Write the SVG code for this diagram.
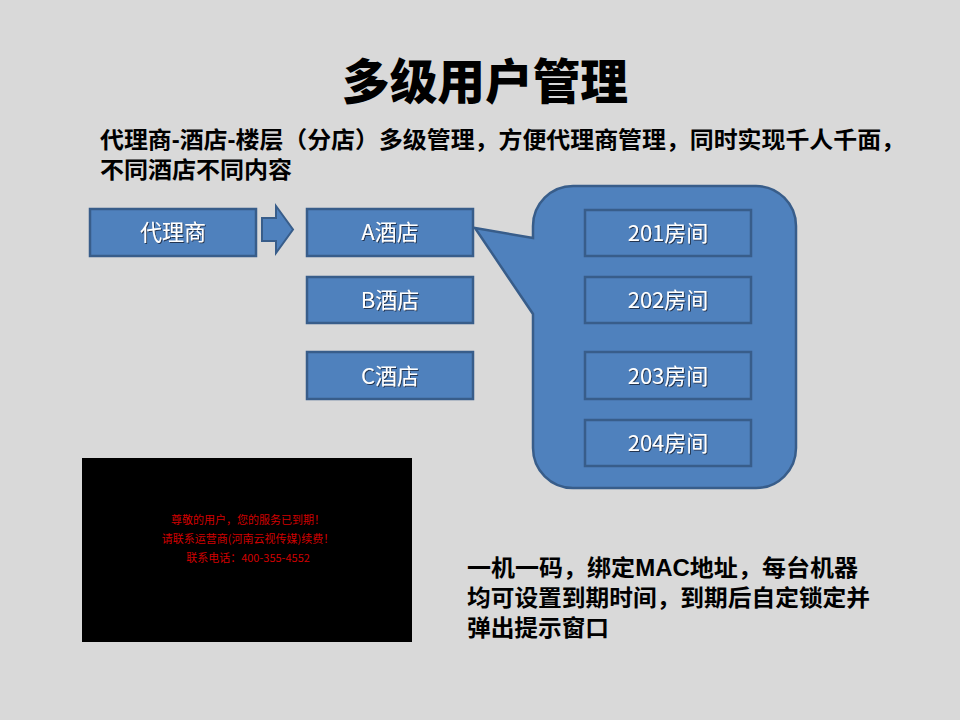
<svg xmlns="http://www.w3.org/2000/svg" width="960" height="720" viewBox="0 0 960 720">
  <defs>
    <filter id="ts" x="-10%" y="-20%" width="130%" height="150%">
      <feDropShadow dx="1" dy="1" stdDeviation="0.4" flood-color="#1f2f45" flood-opacity="0.9"/>
    </filter>
  </defs>
  <style>
    .box { fill: #4f81bd; stroke: #385d8a; stroke-width: 2.5; }
    .lbl { font-family: "Noto Sans CJK SC", "Liberation Sans", sans-serif; font-size: 22px; fill: #ffffff; text-anchor: middle; filter: url(#ts); }
    .head { font-family: "Noto Sans CJK SC", sans-serif; font-weight: 900; fill: #000000; }
    .body { font-family: "Liberation Sans", "Noto Sans CJK SC", sans-serif; font-weight: 700; font-size: 23px; fill: #000000; }
    .red { font-family: "Noto Sans CJK SC", sans-serif; font-size: 11px; fill: #d00000; text-anchor: middle; }
  </style>
  <rect width="960" height="720" fill="#d9d9d9"/>

  <text class="head" x="485" y="99" font-size="48" text-anchor="middle" textLength="286" lengthAdjust="spacingAndGlyphs">多级用户管理</text>

  <text class="body" x="100" y="148" textLength="805" lengthAdjust="spacingAndGlyphs">代理商-酒店-楼层（分店）多级管理，方便代理商管理，同时实现千人千面，</text>
  <text class="body" x="100" y="178" textLength="192" lengthAdjust="spacingAndGlyphs">不同酒店不同内容</text>

  <g id="connectors">
    <path d="M262,218 H276 V206 L293,229.5 L276,253 V241 H262 Z" fill="#4f81bd" stroke="#385d8a" stroke-width="2"/>
  </g>

  <g id="agent">
    <rect class="box" x="90" y="209" width="166" height="47"/>
    <text class="lbl" x="173" y="240">代理商</text>
  </g>
  <g id="hotelA">
    <rect class="box" x="307" y="209" width="166" height="47"/>
    <text class="lbl" x="390" y="240">A酒店</text>
  </g>
  <g id="hotelB">
    <rect class="box" x="307" y="277" width="166" height="46"/>
    <text class="lbl" x="390" y="308">B酒店</text>
  </g>
  <g id="hotelC">
    <rect class="box" x="307" y="352" width="166" height="47"/>
    <text class="lbl" x="390" y="384">C酒店</text>
  </g>

  <g id="rooms-callout">
    <path class="box" d="M573,186 H756 A40,40 0 0 1 796,226 V448 A40,40 0 0 1 756,488 H573 A40,40 0 0 1 533,448 V314 L475,228 L533,238 V226 A40,40 0 0 1 573,186 Z"/>
  </g>
  <g id="room201">
    <rect class="box" x="585" y="210" width="166" height="46"/>
    <text class="lbl" x="668" y="241">201房间</text>
  </g>
  <g id="room202">
    <rect class="box" x="585" y="277" width="166" height="46"/>
    <text class="lbl" x="668" y="308">202房间</text>
  </g>
  <g id="room203">
    <rect class="box" x="585" y="352" width="166" height="47"/>
    <text class="lbl" x="668" y="384">203房间</text>
  </g>
  <g id="room204">
    <rect class="box" x="585" y="420" width="166" height="46"/>
    <text class="lbl" x="668" y="451">204房间</text>
  </g>

  <g id="expired-screen">
    <rect x="82" y="458" width="330" height="184" fill="#000000"/>
    <text class="red" x="248" y="524">尊敬的用户，您的服务已到期！</text>
    <text class="red" x="248" y="543">请联系运营商(河南云视传媒)续费！</text>
    <text class="red" x="248" y="562">联系电话：400-355-4552</text>
  </g>

  <text class="body" x="467" y="576" textLength="391" lengthAdjust="spacingAndGlyphs">一机一码，绑定MAC地址，每台机器</text>
  <text class="body" x="467" y="606" textLength="403" lengthAdjust="spacingAndGlyphs">均可设置到期时间，到期后自定锁定并</text>
  <text class="body" x="467" y="636" textLength="142" lengthAdjust="spacingAndGlyphs">弹出提示窗口</text>
</svg>
